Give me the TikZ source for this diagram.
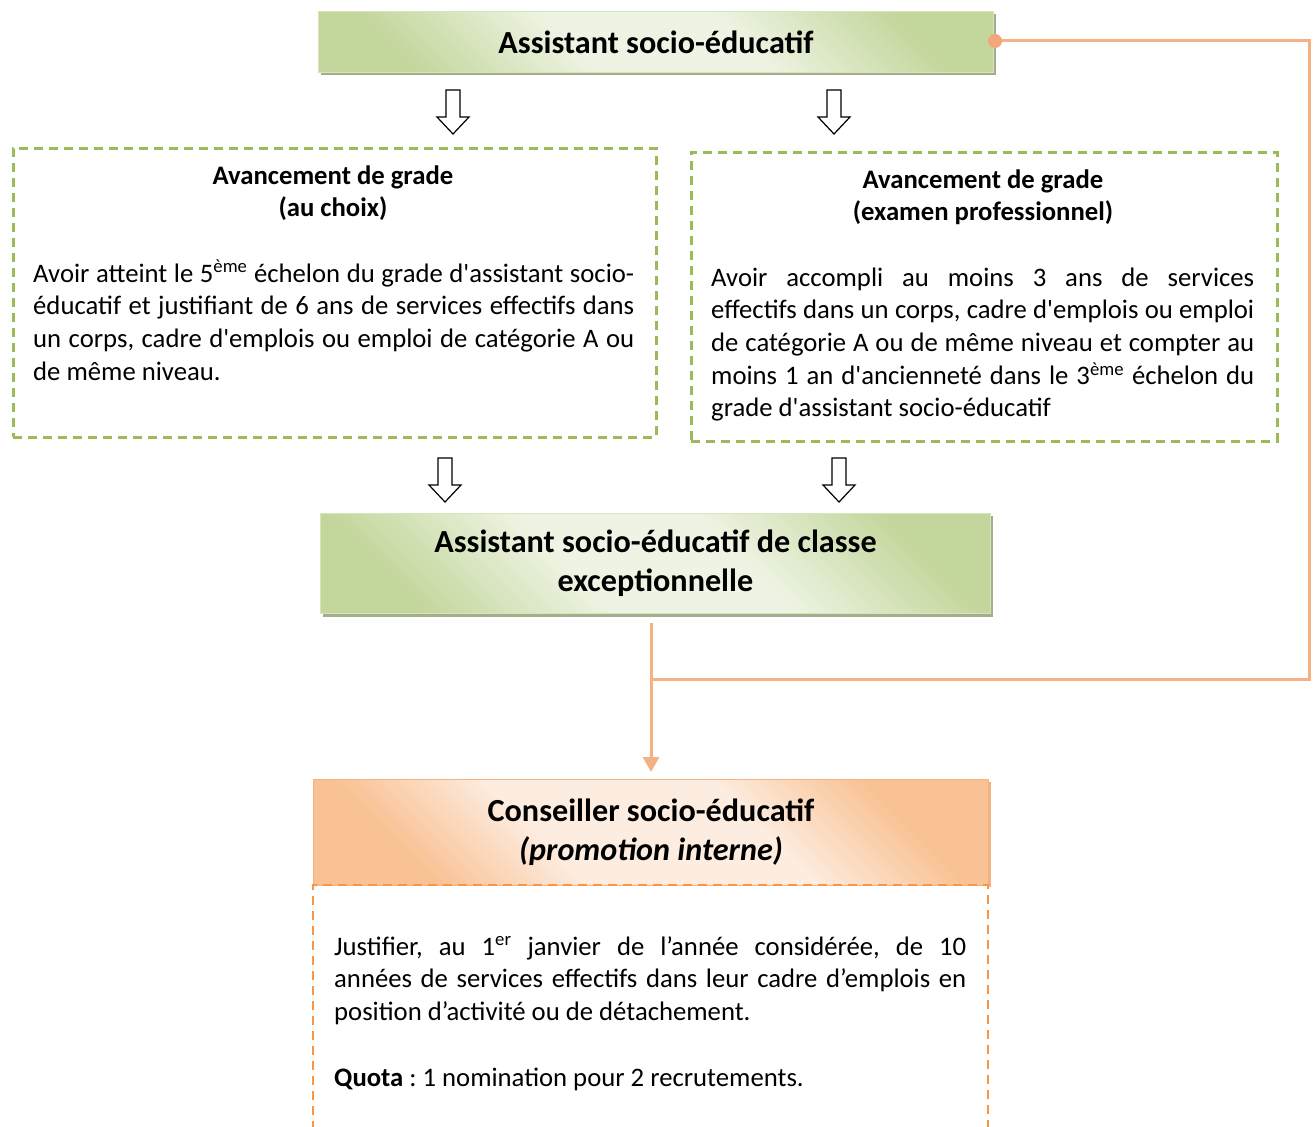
\documentclass[tikz,border=0pt]{standalone}
\usepackage{fontspec}
\setmainfont{Carlito}[Ligatures=TeXOff]
\usetikzlibrary{arrows.meta}
\definecolor{gline}{HTML}{9BBB59}
\definecolor{gdark}{HTML}{C3D69B}
\definecolor{glight}{HTML}{EEF4E4}
\definecolor{gshad}{HTML}{A4AD8C}
\definecolor{gborder}{HTML}{D7E4BD}
\definecolor{oline}{HTML}{F4B183}
\definecolor{odot}{HTML}{F2A77A}
\definecolor{odark}{HTML}{F9C294}
\definecolor{olight}{HTML}{FDEDE1}
\definecolor{oborder}{HTML}{F8B07C}
\definecolor{odashc}{HTML}{F79646}
\pgfdeclareverticalshading{greensh}{100bp}{color(0bp)=(gdark); color(24bp)=(gdark); color(42bp)=(glight); color(58bp)=(glight); color(76bp)=(gdark); color(100bp)=(gdark)}
\pgfdeclareverticalshading{orangesh}{100bp}{color(0bp)=(odark); color(26bp)=(odark); color(40bp)=(olight); color(60bp)=(olight); color(74bp)=(odark); color(100bp)=(odark)}
\newcommand\bodyfnt{\fontsize{26.7}{32.7}\selectfont}
\newcommand\bigfnt{\fontsize{32.2}{39}\selectfont\bfseries}
\tikzset{
  gshadow/.style={fill=gshad, draw=none},
  gbox/.style={draw=gborder, line width=1pt, shade, shading=greensh, shading angle=-45, inner sep=0pt},
  obox/.style={draw=oborder, line width=1pt, shade, shading=orangesh, shading angle=-45, inner sep=0pt},
  gdash/.style={draw=gline, line width=2.6pt, dash pattern=on 9pt off 6pt, inner sep=0pt},
  odash/.style={draw=odashc, line width=2.4pt, dash pattern=on 9pt off 6pt},
  connline/.style={draw=oline, line width=3pt},
  dotstyle/.style={circle, fill=odot, draw=none, minimum size=14pt, inner sep=0pt},
  hollow/.style={draw=black, fill=white, line width=1.2pt, line join=miter},
  txt/.style={inner sep=0pt},
  pics/downarr/.style={code={\draw[hollow] (-7,0) -- (7,0) -- (7,27) -- (16,27) -- (0,44) -- (-16,27) -- (-7,27) -- cycle;}}
}
\begin{document}
\frenchspacing
\begin{tikzpicture}[x=1pt,y=-1pt]
\fill[white] (0,0) rectangle (1313,1126);
\useasboundingbox (0,0) rectangle (1313,1126);

% top box
\fill[gshadow] (321,14) rectangle (996,75);
\node[gbox, minimum width=675pt, minimum height=61pt, anchor=north west, font=\bigfnt] (top) at (318,11) {Assistant socio-éducatif};

% hollow arrows
\pic at (453,90) {downarr};
\pic at (834,90) {downarr};
\pic at (445,458) {downarr};
\pic at (839,458) {downarr};

% left dashed box
\node[gdash, minimum width=643pt, minimum height=289pt, anchor=north west] (lbox) at (12,147) {};
\node[txt, anchor=base] (ltitle) at (333,184) {\parbox[t]{600pt}{\centering\bodyfnt\bfseries Avancement de grade\\(au choix)}};
\node[txt, anchor=base west] (lbody) at (33,282) {\parbox[t]{601pt}{\bodyfnt Avoir atteint le 5\textsuperscript{ème} échelon du grade d'assistant socio-\linebreak éducatif et justifiant de 6 ans de services effectifs dans\linebreak un corps, cadre d'emplois ou emploi de catégorie A ou\linebreak de même niveau.}};

% right dashed box
\node[gdash, minimum width=586pt, minimum height=289pt, anchor=north west] (rbox) at (690,151) {};
\node[txt, anchor=base] (rtitle) at (983,188) {\parbox[t]{560pt}{\centering\bodyfnt\bfseries Avancement de grade\\(examen professionnel)}};
\node[txt, anchor=base west] (rbody) at (711,286) {\parbox[t]{543pt}{\bodyfnt Avoir accompli au moins 3 ans de services\linebreak effectifs dans un corps, cadre d'emplois ou emploi\linebreak de catégorie A ou de même niveau et compter au\linebreak moins 1 an d'ancienneté dans le 3\textsuperscript{ème} échelon du\linebreak grade d'assistant socio-éducatif}};

% middle box
\fill[gshadow] (323,516) rectangle (993,617);
\node[gbox, minimum width=670pt, minimum height=100pt, anchor=north west, align=center, font=\bigfnt] (mid) at (320,513) {Assistant socio-éducatif de classe\\exceptionnelle};

% conseiller box
\fill[oline] (316,782) rectangle (991,887);
\node[obox, minimum width=675pt, minimum height=106pt, anchor=north west, align=center, font=\bigfnt] (cons) at (313,779) {Conseiller socio-éducatif\\\textit{(promotion interne)}};

% lower dashed box (cut by the page edge)
\fill[white] (313,886) rectangle (988,1126);
\draw[odash] (313,1130) -- (313,885) -- (988,885) -- (988,1130);
\node[txt, anchor=base west] (jtext) at (334,955) {\parbox[t]{632pt}{\bodyfnt Justifier, au 1\textsuperscript{er} janvier de l’année considérée, de 10\linebreak années de services effectifs dans leur cadre d’emplois en\linebreak position d’activité ou de détachement.}};
\node[txt, anchor=base west] (quota) at (334,1086) {\bodyfnt\textbf{Quota} : 1 nomination pour 2 recrutements.};

% orange connectors
\coordinate (c1) at (651,623);
\coordinate (c2) at (651,679);
\coordinate (c3) at (1309,679);
\draw[connline, -{Triangle[width=16pt,length=15pt]}, shorten >=7pt] (c1) -- (cons.north);
\draw[connline] (995,41) -| (c3) -- (c2);
\node[dotstyle] (dot) at (995,41) {};
\end{tikzpicture}
\end{document}
